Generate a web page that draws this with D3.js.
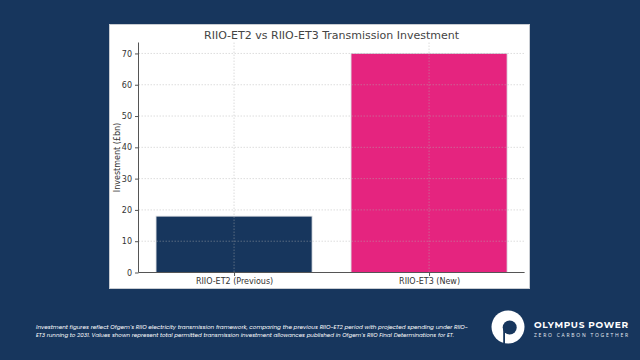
<!DOCTYPE html>
<html><head><meta charset="utf-8">
<script src="https://cdn.jsdelivr.net/npm/d3@7"></script>
<style>body{margin:0;background:#17365D;}svg{display:block;}</style>
</head><body>
<script>
const categories = ["RIIO-ET2 (Previous)", "RIIO-ET3 (New)"];
const values = [18, 70];
const colors = ["#17365D", "#E5247F"];
const yTicks = [0, 10, 20, 30, 40, 50, 60, 70];
const title = "RIIO-ET2 vs RIIO-ET3 Transmission Investment";
const yLabel = "Investment (£bn)";
const noteLines = [
  "Investment figures reflect Ofgem\u2019s RIIO electricity transmission framework, comparing the previous RIIO-ET2 period with projected spending under RIIO-",
  "ET3 running to 2031. Values shown represent total permitted transmission investment allowances published in Ofgem\u2019s RIIO Final Determinations for ET."
];

const W = 640, H = 360;
const svg = d3.select("body").append("svg").attr("width", W).attr("height", H);
svg.append("rect").attr("width", W).attr("height", H).attr("fill", "#17365D");

// white panel
svg.append("rect").attr("x", 109.5).attr("y", 24.5).attr("width", 420).attr("height", 264)
  .attr("fill", "#fff").attr("stroke", "#c8ccd2").attr("stroke-width", 1);

const pL = 138.5, pR = 524.6, pT = 42.5, pB = 272.5;
const x = d3.scaleLinear().domain([-0.49, 1.49]).range([pL, pR]);
const y = d3.scaleLinear().domain([0, 73.5]).range([pB, pT]);
const bw = 0.8;

// bars
svg.append("g").selectAll("rect").data(values).join("rect")
  .attr("x", (d, i) => x(i - bw / 2))
  .attr("width", (d, i) => x(i + bw / 2) - x(i - bw / 2))
  .attr("y", d => y(d))
  .attr("height", d => y(0) - y(d))
  .attr("fill", (d, i) => colors[i])
  .attr("stroke", "#d8dbe0").attr("stroke-width", 0.8);

// grid (drawn above bars)
const grid = svg.append("g").attr("stroke", "#b0b0b0").attr("stroke-opacity", 0.55)
  .attr("stroke-dasharray", "1.5,1.5").attr("stroke-width", 0.8);
grid.selectAll(".h").data(yTicks).join("line").attr("class", "h")
  .attr("x1", pL).attr("x2", pR).attr("y1", d => y(d)).attr("y2", d => y(d));
grid.selectAll(".v").data(categories).join("line").attr("class", "v")
  .attr("x1", (d, i) => x(i)).attr("x2", (d, i) => x(i)).attr("y1", pT).attr("y2", pB);

// axes
const yAxis = d3.axisLeft(y).tickValues(yTicks).tickSize(3.5).tickPadding(3);
const gy = svg.append("g").attr("transform", `translate(${pL},0)`).call(yAxis);
const xAxis = d3.axisBottom(x).tickValues([0, 1]).tickFormat((d) => categories[d]).tickSize(3.5).tickPadding(2);
const gx = svg.append("g").attr("transform", `translate(0,${pB})`).call(xAxis);
[gx, gy].forEach(g => {
  g.select(".domain").attr("stroke", "#555").attr("stroke-width", 1);
  g.selectAll(".tick line").attr("stroke", "#555");
  g.selectAll("text").attr("fill", "#333").attr("font-family", "DejaVu Sans").attr("font-size", 8);
});
gy.select(".domain").attr("d", `M0,${pT}V${pB}`);
gx.select(".domain").attr("d", `M${pL},0H${pR}`);

svg.append("text").attr("transform", `translate(119.5,${(pT + pB) / 2}) rotate(-90)`)
  .attr("text-anchor", "middle").attr("font-family", "DejaVu Sans").attr("font-size", 8)
  .attr("fill", "#333").text(yLabel);

svg.append("text").attr("x", (pL + pR) / 2).attr("y", 39).attr("text-anchor", "middle")
  .attr("font-family", "DejaVu Sans").attr("font-size", 11).attr("fill", "#444").text(title);

// footnote
svg.append("g").selectAll("text").data(noteLines).join("text")
  .attr("x", 36).attr("y", (d, i) => 328.5 + i * 8)
  .attr("font-family", "Poppins, 'Open Sans', sans-serif").attr("font-style", "italic")
  .attr("font-size", 5.3).attr("fill", "#fff")
  .attr("textLength", (d, i) => i === 0 ? 432 : 418).attr("lengthAdjust", "spacingAndGlyphs")
  .text(d => d);

// logo
const logo = svg.append("g");
logo.append("circle").attr("cx", 508).attr("cy", 327).attr("r", 16.5).attr("fill", "#fff");
logo.append("circle").attr("cx", 509.7).attr("cy", 327.5).attr("r", 7).attr("fill", "#17365D");
logo.append("rect").attr("x", 503.2).attr("y", 327.5).attr("width", 1.8).attr("height", 17).attr("fill", "#17365D");
logo.append("text").attr("x", 534).attr("y", 327.5).attr("font-family", "Montserrat, 'Open Sans', sans-serif")
  .attr("font-weight", "bold").attr("font-size", 9).attr("fill", "#fff")
  .attr("textLength", 94).attr("lengthAdjust", "spacing").text("OLYMPUS POWER");
logo.append("text").attr("x", 534).attr("y", 337).attr("font-family", "'Open Sans', sans-serif")
  .attr("font-size", 5).attr("fill", "#e8ecf2")
  .attr("textLength", 94).attr("lengthAdjust", "spacing").text("ZERO CARBON TOGETHER");
</script>
</body></html>
